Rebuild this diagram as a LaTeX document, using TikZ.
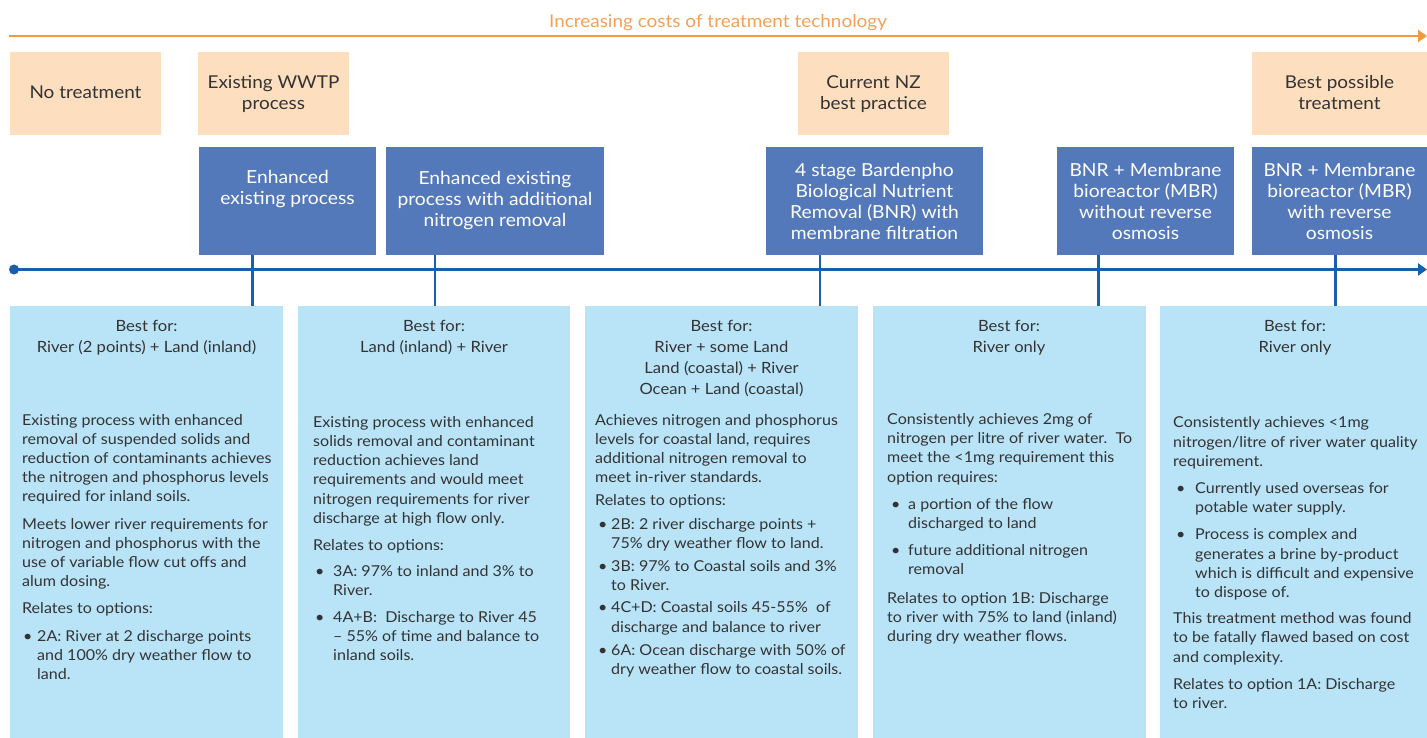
\documentclass[tikz,border=0pt]{standalone}
\usepackage{fontspec}
\setmainfont{Lato}[FakeStretch=1.07]
\usetikzlibrary{arrows.meta}
\definecolor{orng}{HTML}{F39A3E}
\definecolor{orngtxt}{HTML}{F4A055}
\definecolor{peach}{HTML}{FDDFC0}
\definecolor{bbox}{HTML}{5479BA}
\definecolor{bline}{HTML}{1B5FAA}
\definecolor{lblue}{HTML}{B9E4F8}
\definecolor{txt}{HTML}{333333}
\newcommand\bul[2]{\hspace*{#1pt}\makebox[#2pt][l]{\textbullet}}
\newcommand\ind[1]{\hspace*{#1pt}}
\begin{document}
\begin{tikzpicture}[x=1pt,y=-1pt,
  peachbox/.style={fill=peach, draw=none, inner sep=0, anchor=north west},
  bluebox/.style={fill=bbox, draw=none, inner sep=0, anchor=north west},
  lightbox/.style={fill=lblue, draw=none, inner sep=0, anchor=north west},
  peachtxt/.style={inner sep=0, anchor=base, align=center, text=txt, font=\fontsize{17.7}{21}\selectfont},
  bluetxt/.style={inner sep=0, anchor=base, align=center, text=white, font=\fontsize{18}{21}\selectfont},
  headtxt/.style={inner sep=0, anchor=base, align=center, text=txt, font=\fontsize{15.5}{21}\selectfont},
  bodytxt/.style={inner sep=0, anchor=base west, align=left, text=txt, font=\fontsize{15}{19.2}\selectfont},
  connector/.style={draw=bline, line width=2.4pt}
]
\useasboundingbox (0,0) rectangle (1427,738);

% cost arrow
\coordinate (c0) at (9,36);
\coordinate (c1) at (1427,36);
\draw[orng, line width=2.5pt, -{Triangle[length=9pt,width=12pt]}] (c0) -- (c1);
\node[inner sep=0, anchor=base, text=orngtxt, font=\fontsize{17.7}{21}\selectfont] (title) at (718,28) {Increasing costs of treatment technology};

% peach boxes
\node[peachbox, minimum width=151, minimum height=83] (p1) at (10,52) {};
\node[peachbox, minimum width=151, minimum height=83] (p2) at (198,52) {};
\node[peachbox, minimum width=151, minimum height=83] (p3) at (798,52) {};
\node[peachbox, minimum width=175, minimum height=83] (p4) at (1252,52) {};
\node[peachtxt] (pt1) at (85.5,99) {No treatment};
\node[peachtxt] (pt2) at (273.5,110) {Existing WWTP\\process};
\node[peachtxt] (pt3) at (873.5,110) {Current NZ\\best practice};
\node[peachtxt] (pt4) at (1339.5,110) {Best possible\\treatment};

% blue boxes
\node[bluebox, minimum width=177, minimum height=108] (b1) at (199,147) {};
\node[bluebox, minimum width=218, minimum height=108] (b2) at (386,147) {};
\node[bluebox, minimum width=217, minimum height=108] (b3) at (766,147) {};
\node[bluebox, minimum width=177, minimum height=108] (b4) at (1057,147) {};
\node[bluebox, minimum width=175, minimum height=108] (b5) at (1252,147) {};
\node[bluetxt] (bt1) at (287.5,205) {Enhanced\\existing process};
\node[bluetxt] (bt2) at (495,226) {Enhanced existing\\process with additional\\nitrogen removal};
\node[bluetxt] (bt3) at (874.5,240) {4 stage Bardenpho\\Biological Nutrient\\Removal (BNR) with\\membrane filtration};
\node[bluetxt] (bt4) at (1145.5,240) {BNR + Membrane\\bioreactor (MBR)\\without reverse\\osmosis};
\node[bluetxt] (bt5) at (1339.5,240) {BNR + Membrane\\bioreactor (MBR)\\with reverse\\osmosis};

% light boxes
\node[lightbox, minimum width=273, minimum height=432] (l1) at (10,306) {};
\node[lightbox, minimum width=272, minimum height=432] (l2) at (298,306) {};
\node[lightbox, minimum width=273, minimum height=432] (l3) at (585,306) {};
\node[lightbox, minimum width=273, minimum height=432] (l4) at (873,306) {};
\node[lightbox, minimum width=267, minimum height=432] (l5) at (1160,306) {};

% connectors
\coordinate (v1) at (252.5,255);
\coordinate (v2) at (435,255);
\coordinate (v3) at (820,255);
\coordinate (v4) at (1098.5,255);
\coordinate (v5) at (1335.5,255);
\draw[connector] (v1) -- (v1 |- l1.north);
\draw[connector] (v2) -- (v2 |- l2.north);
\draw[connector] (v3) -- (v3 |- l3.north);
\draw[connector] (v4) -- (v4 |- l4.north);
\draw[connector] (v5) -- (v5 |- l5.north);

% timeline
\coordinate (t0) at (14,269.5);
\coordinate (t1) at (1427,269.5);
\draw[bline, line width=2.6pt, -{Triangle[length=9pt,width=12pt]}] (t0) -- (t1);
\fill[bline] (t0) circle (5);

% headers
\node[headtxt] (h1) at (146.5,352) {Best for:\\River (2 points) + Land (inland)};
\node[headtxt] (h2) at (434,352) {Best for:\\Land (inland) + River};
\node[headtxt] (h3) at (721.5,394.5) {Best for:\\River + some Land\\Land (coastal) + River\\Ocean + Land (coastal)};
\node[headtxt] (h4) at (1009,352) {Best for:\\River only};
\node[headtxt] (h5) at (1295,352) {Best for:\\River only};

% body texts
\node[bodytxt] (d1) at (22,679.5) {Existing process with enhanced\\
removal of suspended solids and\\
reduction of contaminants achieves\\
the nitrogen and phosphorus levels\\
required for inland soils.\\[8pt]
Meets lower river requirements for\\
nitrogen and phosphorus with the\\
use of variable flow cut offs and\\
alum dosing.\\[8pt]
Relates to options:\\[8pt]
\bul{1}{14}2A: River at 2 discharge points\\
\ind{15}and 100\% dry weather flow to\\
\ind{15}land.};

\node[bodytxt] (d2) at (313,660.5) {Existing process with enhanced\\
solids removal and contaminant\\
reduction achieves land\\
requirements and would meet\\
nitrogen requirements for river\\
discharge at high flow only.\\[8pt]
Relates to options:\\[7pt]
\bul{2}{18}3A: 97\% to inland and 3\% to\\
\ind{20}River.\\[7pt]
\bul{2}{18}4A+B:\ \ Discharge to River 45\\
\ind{20}-- 55\% of time and balance to\\
\ind{20}inland soils.};

\node[bodytxt] (d3) at (595,674.5) {Achieves nitrogen and phosphorus\\
levels for coastal land, requires\\
additional nitrogen removal to\\
meet in-river standards.\\[4pt]
Relates to options:\\[4pt]
\bul{3}{13}2B: 2 river discharge points +\\
\ind{16}75\% dry weather flow to land.\\[4pt]
\bul{3}{13}3B: 97\% to Coastal soils and 3\%\\
\ind{16}to River.\\[3pt]
\bul{3}{13}4C+D: Coastal soils 45-55\%\ \ of\\
\ind{16}discharge and balance to river\\[4pt]
\bul{3}{13}6A: Ocean discharge with 50\% of\\
\ind{16}dry weather flow to coastal soils.};

\node[bodytxt] (d4) at (887,641.5) {Consistently achieves 2mg of\\
nitrogen per litre of river water.\ \ To\\
meet the <1mg requirement this\\
option requires:\\[8pt]
\bul{4}{17}a portion of the flow\\
\ind{21}discharged to land\\[8pt]
\bul{4}{17}future additional nitrogen\\
\ind{21}removal\\[9pt]
Relates to option 1B: Discharge\\
to river with 75\% to land (inland)\\
during dry weather flows.};

\node[bodytxt] (d5) at (1173,708.5) {Consistently achieves <1mg\\
nitrogen/litre of river water quality\\
requirement.\\[8pt]
\bul{3}{19}Currently used overseas for\\
\ind{22}potable water supply.\\[8pt]
\bul{3}{19}Process is complex and\\
\ind{22}generates a brine by-product\\
\ind{22}which is difficult and expensive\\
\ind{22}to dispose of.\\[7pt]
This treatment method was found\\
to be fatally flawed based on cost\\
and complexity.\\[8pt]
Relates to option 1A: Discharge\\
to river.};
\end{tikzpicture}
\end{document}
